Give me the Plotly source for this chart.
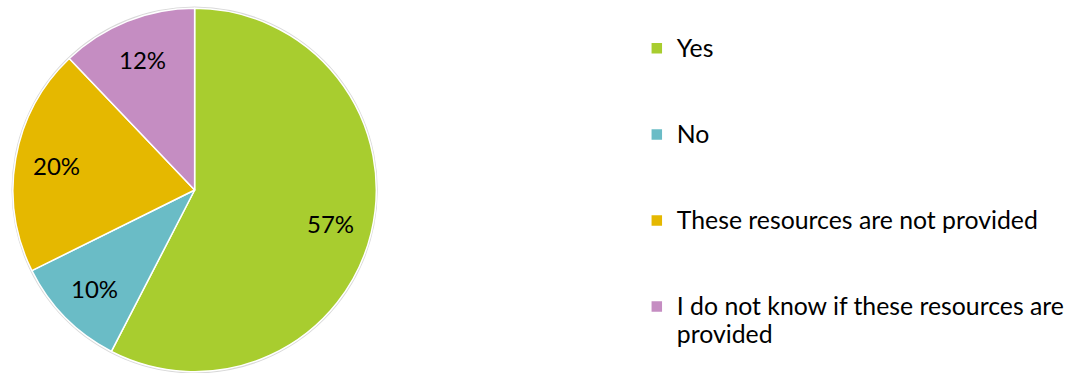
import math
import plotly.graph_objects as go

# Survey answers and their shares (percent)
labels = [
    "Yes",
    "No",
    "These resources are not provided",
    "I do not know if these resources are<br>provided",
]
values = [57, 10, 20, 12]
colors = ["#A8CD2F", "#6ABCC6", "#E5B800", "#C58DC2"]

W, H = 1070, 373
FONT = "Lato"

# pie placement in pixels
PX, PY, PR = 195, 190, 182

# Legend entries: label text at a larger size, padded with blank lines so
# that the entries are spread down the right-hand side.
legend_text = []
for i, lab in enumerate(labels):
    pad = "" if i == len(labels) - 1 else "<br>&nbsp;<br>&nbsp;"
    legend_text.append(f"<span style='font-size:24.8px'>{lab}</span>{pad}")

fig = go.Figure(
    go.Pie(
        labels=legend_text,
        values=values,
        sort=False,
        direction="clockwise",
        rotation=0,
        marker=dict(colors=colors, line=dict(color="white", width=1.5)),
        textinfo="none",
        hoverinfo="label+percent",
        domain=dict(x=[(PX - PR) / W, (PX + PR) / W],
                    y=[1 - (PY + PR) / H, 1 - (PY - PR) / H]),
    )
)

# percentage labels placed at ~77% of the radius along each slice's mid-angle
total = sum(values)
cum = 0
for v in values:
    mid = (cum + v / 2) / total * 2 * math.pi
    cum += v
    rx = PX + 0.77 * PR * math.sin(mid)
    ry = PY - 0.77 * PR * math.cos(mid)
    fig.add_annotation(
        x=rx / W, y=1 - ry / H, xref="paper", yref="paper",
        text=f"{v}%", showarrow=False,
        xanchor="center", yanchor="middle",
        font=dict(family=FONT, size=24, color="black"),
    )

# soft grey rim around the pie
cx, cy, r = PX / W, 1 - PY / H, PR + 1.5
fig.add_shape(
    type="circle", xref="paper", yref="paper", layer="below",
    x0=cx - r / W, x1=cx + r / W, y0=cy - r / H, y1=cy + r / H,
    line=dict(color="rgba(0,0,0,0)", width=0), fillcolor="#D9D9D9",
)

fig.update_layout(
    width=W,
    height=H,
    margin=dict(l=0, r=0, t=0, b=0),
    paper_bgcolor="white",
    plot_bgcolor="white",
    font=dict(family=FONT, color="black"),
    showlegend=True,
    legend=dict(
        x=638 / W, xanchor="left",
        y=1 - 28 / H, yanchor="top",
        valign="top",
        font=dict(family=FONT, size=21.3, color="black"),
        bgcolor="rgba(0,0,0,0)",
        itemclick=False, itemdoubleclick=False,
    ),
)

fig.write_html("out.html")
